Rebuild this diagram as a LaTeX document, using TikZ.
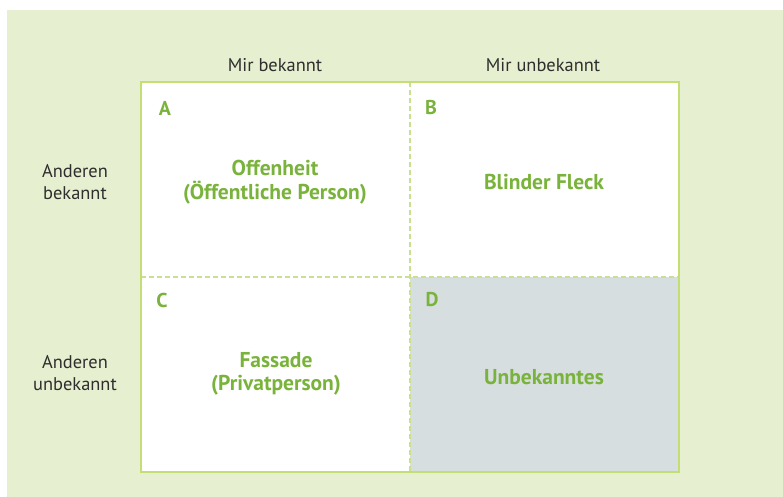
\documentclass[tikz,border=0pt]{standalone}
\usepackage{fontspec}
\setmainfont{PT Sans}
\definecolor{bggreen}{HTML}{E6EFCF}
\definecolor{boxline}{HTML}{C3DE72}
\definecolor{dashline}{HTML}{C9E08E}
\definecolor{txtgreen}{HTML}{7AB33B}
\definecolor{dfill}{HTML}{D6DEE0}
\definecolor{txtdark}{HTML}{2E2E2E}
\tikzset{
  head/.style={text=txtdark, font=\fontsize{18.4}{21}\selectfont, align=center, inner sep=0pt},
  side/.style={text=txtdark, font=\fontsize{18.4}{22}\selectfont, align=center, inner sep=0pt},
  letter/.style={text=txtgreen, font=\bfseries\fontsize{20}{22}\selectfont, inner sep=0pt},
  title/.style={text=txtgreen, font=\bfseries\fontsize{21.5}{23.5}\selectfont, align=center, inner sep=0pt},
  divider/.style={dashline, line width=1.5pt, dash pattern=on 5pt off 3pt},
}
\begin{document}
\begin{tikzpicture}[x=1pt,y=-1pt]
\useasboundingbox (0,0) rectangle (783,497);
\fill[white] (0,0) rectangle (783,497);
\fill[bggreen] (7,10) rectangle (783,497);
% box
\fill[white] (141,82) rectangle (679,472);
\fill[dfill] (410,277) rectangle (679,472);
\coordinate (tm) at (410,82);
\coordinate (bm) at (410,472);
\coordinate (lm) at (141,277);
\coordinate (rm) at (679,277);
\draw[divider] (tm) -- (bm);
\draw[divider] (lm) -- (rm);
\draw[boxline, line width=2.2pt] (141,82) rectangle (679,472);
% headers
\node[head] (h1) at (275,65) {Mir bekannt};
\node[head] (h2) at (543,65) {Mir unbekannt};
\node[side] (s1) at (75,182) {Anderen\\bekannt};
\node[side] (s2) at (75,373) {Anderen\\unbekannt};
% letters
\node[letter] (la) at (165,108) {A};
\node[letter] (lb) at (431,108) {B};
\node[letter] (lc) at (162,300) {C};
\node[letter] (ld) at (432,300) {D};
% titles
\node[title] (ta) at (275,182) {Offenheit\\(Öffentliche Person)};
\node[title] (tb) at (544,182) {Blinder Fleck};
\node[title] (tc) at (276,374) {Fassade\\(Privatperson)};
\node[title] (td) at (544,377) {Unbekanntes};
\end{tikzpicture}
\end{document}
